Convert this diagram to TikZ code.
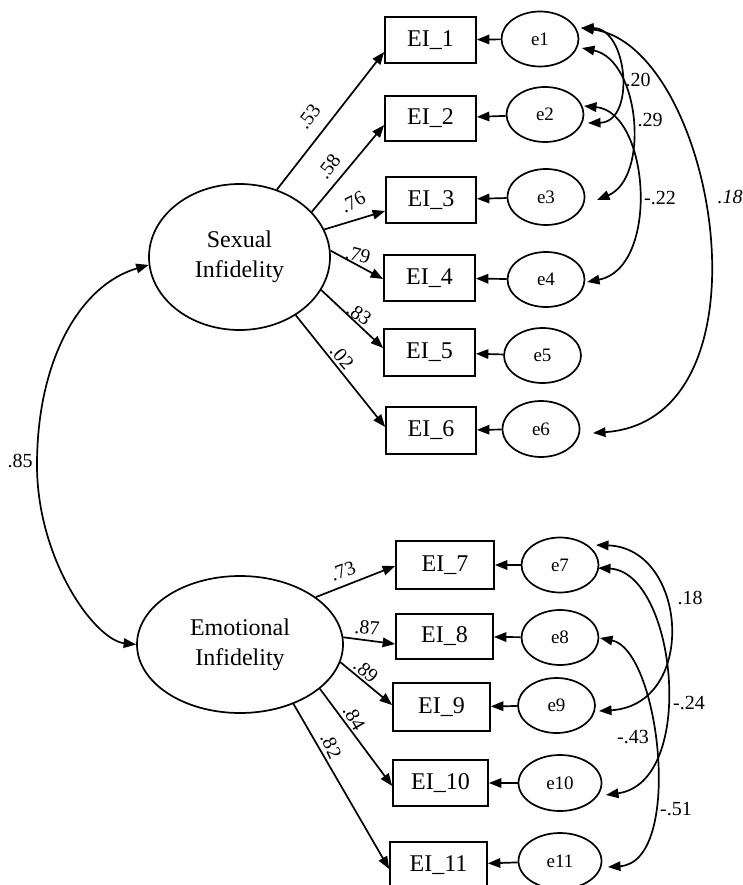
\documentclass[tikz,border=0pt]{standalone}
\usepackage{fontspec}
\setmainfont{Liberation Serif}
\usetikzlibrary{arrows.meta,shapes.geometric}
\begin{document}
\begin{tikzpicture}[x=1pt,y=-1pt,
  obs/.style={draw, line width=1.7pt, rectangle, inner sep=0pt, minimum width=91pt, minimum height=46pt, font=\fontsize{24}{27}\selectfont},
  err/.style={draw, line width=1.7pt, ellipse, inner sep=0pt, minimum width=77pt, minimum height=55pt, font=\fontsize{19}{21}\selectfont},
  lat/.style={draw, ellipse, line width=1.7pt, inner sep=0pt, align=center, font=\fontsize{24}{30}\selectfont},
  load/.style={line width=1.7pt, -{Triangle[length=12.5pt,width=9.5pt]}},
  cov/.style={line width=1.7pt, {Triangle[length=12.5pt,width=9.5pt]}-{Triangle[length=12.5pt,width=9.5pt]}},
  wt/.style={font=\fontsize{20}{22}\selectfont, inner sep=0pt},
]
\useasboundingbox (0,0) rectangle (742,885);
\clip (0,0) rectangle (742,885);
\fill[white] (0,0) rectangle (742,885);

% latent variables
\node[lat, minimum width=181pt, minimum height=146pt] (SI) at (239.5,257) {Sexual\\Infidelity};
\node[lat, minimum width=206pt, minimum height=137pt] (EM) at (240,644.5) {Emotional\\Infidelity};

% observed variables
\node[obs] (EI1) at (430.5,40) {EI\_1};
\node[obs, minimum height=45pt] (EI2) at (430.5,118.5) {EI\_2};
\node[obs, minimum width=90pt] (EI3) at (431,200) {EI\_3};
\node[obs] (EI4) at (429.5,278) {EI\_4};
\node[obs, minimum height=47pt] (EI5) at (429.5,352.5) {EI\_5};
\node[obs, minimum width=90pt, minimum height=47pt] (EI6) at (431,430.5) {EI\_6};
\node[obs, minimum width=98pt, minimum height=48pt] (EI7) at (445,565) {EI\_7};
\node[obs, minimum width=97pt, minimum height=45pt] (EI8) at (444.5,636.5) {EI\_8};
\node[obs, minimum width=97pt, minimum height=48pt] (EI9) at (441.5,707) {EI\_9};
\node[obs, minimum width=95pt] (EI10) at (440.5,783) {EI\_10};
\node[obs, minimum width=97pt] (EI11) at (438.5,865) {EI\_11};

% error terms
\node[err] (e1) at (540,39) {e1};
\node[err] (e2) at (545,114.5) {e2};
\node[err, minimum height=56pt] (e3) at (546,197) {e3};
\node[err] (e4) at (546,279.5) {e4};
\node[err] (e5) at (542.5,355.5) {e5};
\node[err, minimum height=56pt] (e6) at (541,429) {e6};
\node[err] (e7) at (560,565) {e7};
\node[err] (e8) at (560,637.5) {e8};
\node[err] (e9) at (556.5,705.5) {e9};
\node[err, minimum width=83pt, minimum height=56pt] (e10) at (560,783) {e10};
\node[err, minimum width=83pt, minimum height=56pt] (e11) at (560,861) {e11};

\foreach \i in {1,...,11} \draw[load] (e\i) -- (EI\i);

% loadings, sexual
\draw[load] (SI.61) -- ([yshift=-12pt]EI1.west);
\draw[load] (SI.32) -- ([yshift=-6.5pt]EI2.west);
\draw[load] (SI.18) -- ([yshift=-11pt]EI3.west);
\draw[load] (SI.4) -- ([yshift=-1pt]EI4.west);
\draw[load] (SI.-22) -- ([yshift=4.5pt]EI5.west);
\draw[load] (SI.-46) -- ([yshift=3.5pt]EI6.west);
% loadings, emotional
\draw[load] (EM.32) -- ([yshift=-1pt]EI7.west);
\draw[load] (EM.4) -- ([yshift=-7.5pt]EI8.west);
\draw[load] (EM.-10) -- ([yshift=2pt]EI9.west);
\draw[load] (EM.-29) -- ([yshift=-3pt]EI10.west);
\draw[load] (EM.-48) -- ([yshift=-4pt]EI11.west);

\node[wt, rotate=53] (w53) at (309,117) {.53};
\node[wt, rotate=53] (w58) at (329,167) {.58};
\node[wt, rotate=27] (w76) at (353,202) {.76};
\node[wt, rotate=-15] (w79) at (358,255) {.79};
\node[wt, rotate=-35] (w83) at (359,314) {.83};
\node[wt, rotate=-50] (w02) at (342,357) {.02};
\node[wt, rotate=20] (w73) at (343,571) {.73};
\node[wt, rotate=-4] (w87) at (367,628) {.87};
\node[wt, rotate=-40] (w89) at (366,671) {.89};
\node[wt, rotate=-60] (w84) at (354,718) {.84};
\node[wt, rotate=-65] (w82) at (331,746) {.82};

% factor covariance
\draw[cov] (SI.185) .. controls (80,285) and (37,360) .. (37,465) .. controls (37,560) and (95,640) .. (EM.west);
\node[wt] (c85) at (20,461) {.85};

% error covariances, top
\draw[cov] ([shift={(41,-11)}]e1.center) .. controls (628,28) and (636,122) .. ([shift={(43,8.5)}]e2.center);
\draw[cov] ([shift={(42,9)}]e1.center) .. controls (640,60) and (650,178) .. ([shift={(51,3)}]e3.center);
\draw[cov] ([shift={(39,-8.5)}]e2.center) .. controls (650,112) and (660,268) .. ([shift={(41,2.5)}]e4.center);
\draw[cov] ([shift={(41,-11)}]e1.center) .. controls (715,45) and (780,420) .. ([shift={(52,4)}]e6.center);
\node[wt] (c20) at (638,80) {.20};
\node[wt] (c29) at (650,120) {.29};
\node[wt] (c22) at (660,198) {-.22};
\node[wt] (c18a) at (730,197) {\itshape .18};

% error covariances, bottom
\draw[cov] ([shift={(36,-20)}]e7.center) .. controls (688,548) and (698,705) .. ([shift={(42.5,5.5)}]e9.center);
\draw[cov] ([shift={(38,3)}]e7.center) .. controls (676,572) and (698,782) .. ([shift={(46,12)}]e10.center);
\draw[cov] ([shift={(40,0.5)}]e8.center) .. controls (660,650) and (684,862) .. ([shift={(48,6)}]e11.center);
\node[wt] (c18b) at (690,598) {.18};
\node[wt] (c24) at (689,703) {-.24};
\node[wt] (c43) at (633,737) {-.43};
\node[wt] (c51) at (676,809) {-.51};
\end{tikzpicture}
\end{document}
